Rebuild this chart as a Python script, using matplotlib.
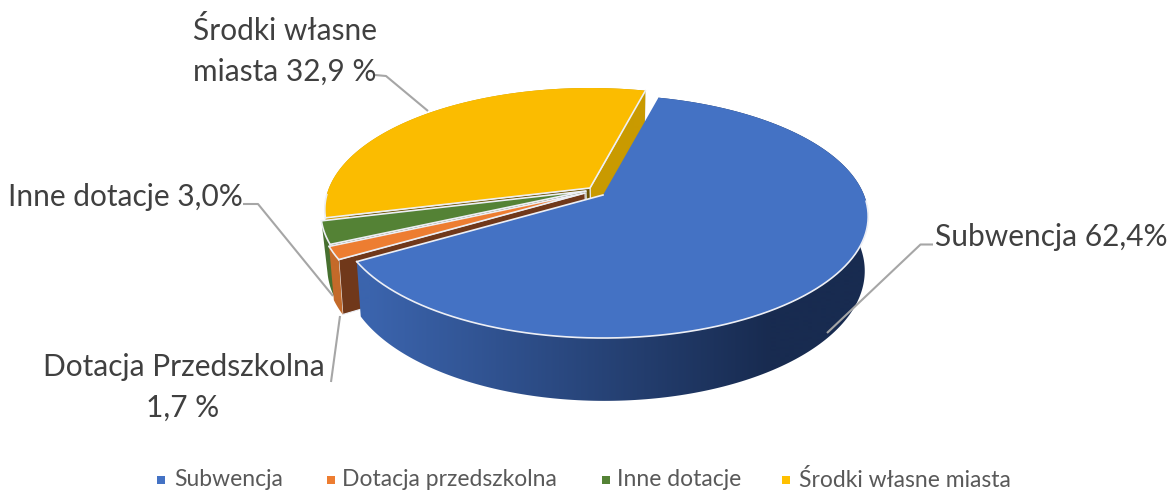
import numpy as np
import matplotlib
matplotlib.use("Agg")
import matplotlib.pyplot as plt
from matplotlib.patches import Polygon
from matplotlib.colors import to_rgb

categories = ["Subwencja", "Dotacja przedszkolna", "Inne dotacje", "Środki własne miasta"]
values = [62.4, 1.7, 3.0, 32.9]
top_colors = ["#4472C4", "#ED7D31", "#548235", "#FBBC00"]
legend_colors = ["#4472C4", "#ED7D31", "#548235", "#FFC000"]
start_face_colors = [None, "#70381A", "#3F4F20", "#6B5200"]
end_face_colors = [None, None, None, "#C99A00"]
wall_left = ["#3B64AD", "#C46A2A", "#477030", "#C99A00"]
wall_right = ["#182B50", "#C46A2A", "#3C6128", "#C99A00"]
apex_tops = [(603, 195), (585, 193), (586, 191), (590, 188)]

W, H = 1169, 492
START = 14.4
A, B, K = 261, 117.7, 0.177
A2, B2, K2, DROP, SHIFT = 255, 124.7, 0.20, 50, 1.5

fig = plt.figure(figsize=(W / 100, H / 100), dpi=100)
ax = fig.add_axes([0, 0, 1, 1])


def top_pt(ap, deg):
    t = np.radians(np.atleast_1d(deg))
    u, v = np.sin(t), np.cos(t)
    d = 1 + K * v
    return np.column_stack([ap[0] + A * u / d, ap[1] - B * v / d])


def bot_pt(ap, deg):
    t = np.radians(np.atleast_1d(deg))
    u, v = np.sin(t), np.cos(t)
    d = 1 + K2 * v
    return np.column_stack([ap[0] + SHIFT + A2 * u / d, ap[1] + DROP - B2 * v / d])


edges = START + np.concatenate([[0], np.cumsum(values)]) * 3.6
EDGE = "#EDEFF5"

for i in [3, 2, 1, 0]:  # back to front
    ap = apex_tops[i]
    low = (ap[0] + SHIFT, ap[1] + DROP)
    a0, a1 = edges[i], edges[i + 1]
    z = 1 + 3 * (3 - i)

    # cut faces seen by the viewer
    for deg, col in ((a1, end_face_colors[i]), (a0, start_face_colors[i])):
        if col is None:
            continue
        r, r2 = top_pt(ap, deg)[0], bot_pt(ap, deg)[0]
        ax.add_patch(Polygon([ap, r, r2, low], closed=True, facecolor=col,
                             edgecolor=EDGE, linewidth=0.8, zorder=z))

    # outer wall: horizontal gradient clipped to the wall outline
    th = np.linspace(a0, a1, 241)
    tp, bp = top_pt(ap, th), bot_pt(ap, th)
    wall = Polygon(np.vstack([tp, bp[::-1]]), closed=True, facecolor="none", edgecolor="none",
                   zorder=z + 0.4)
    ax.add_patch(wall)
    xs = np.linspace(0, W, W + 1)
    f = np.clip((xs - 370) / (770 - 370), 0, 1)[:, None]
    row = np.array(to_rgb(wall_left[i])) * (1 - f) + np.array(to_rgb(wall_right[i])) * f
    im = ax.imshow(row[None, :, :], extent=(0, W, H, 0), aspect="auto", zorder=z + 0.5,
                   interpolation="bilinear")
    im.set_clip_path(wall)

    # top face, with light edges on the cuts and along the front rim only
    outline = np.vstack([[ap], tp])
    ax.fill(outline[:, 0], outline[:, 1], facecolor=top_colors[i], edgecolor="none", zorder=z + 1)
    if i == 0:
        cuts = np.vstack([top_pt(ap, a1), [ap]])
    else:
        cuts = np.vstack([top_pt(ap, a1), [ap], top_pt(ap, a0)])
    ax.plot(cuts[:, 0], cuts[:, 1], color=EDGE, linewidth=1.2, zorder=z + 1.1)
    front = th[np.cos(np.radians(th)) < -0.05]
    fr = top_pt(ap, front)
    ax.plot(fr[:, 0], fr[:, 1], color=EDGE, linewidth=1.2, zorder=z + 1.1)

ax.set_xlim(0, W)
ax.set_ylim(H, 0)
ax.axis("off")

# leader lines
LEAD = "#A6A6A6"
leaders = [
    ([933, 920.5, 827], [244.5, 244.5, 333]),
    ([375, 386, 428], [75, 76, 111]),
    ([243, 258, 333], [204, 204, 296]),
    ([331, 340], [382, 316]),
]
for lx, ly in leaders:
    ax.plot(lx, ly, color=LEAD, linewidth=1.5, zorder=20, solid_capstyle="butt")

FONT = "Lato"
LAB = "#404040"
labels = [
    ("Środki własne", 285, 31),
    ("miasta 32,9 %", 285, 72),
    ("Inne dotacje 3,0%", 125, 197),
    ("Dotacja Przedszkolna", 184, 367),
    ("1,7 %", 183, 408),
    ("Subwencja 62,4%", 1051, 237),
]
for s, x, y in labels:
    ax.text(x, y, s, fontsize=21.5, family=FONT, color=LAB, ha="center", va="center", zorder=30)

legend_marker_x = [161, 331, 606, 786]
legend_text_x = [174, 342, 617, 799]
for name, col, mx, tx in zip(categories, legend_colors, legend_marker_x, legend_text_x):
    ax.scatter([mx], [480], marker="s", s=30, color=col, linewidths=0, zorder=30)
    ax.text(tx, 480, name, fontsize=16.5, family=FONT, color="#595959", ha="left", va="center", zorder=30)

fig.savefig("out.png", dpi=100, facecolor="white")
